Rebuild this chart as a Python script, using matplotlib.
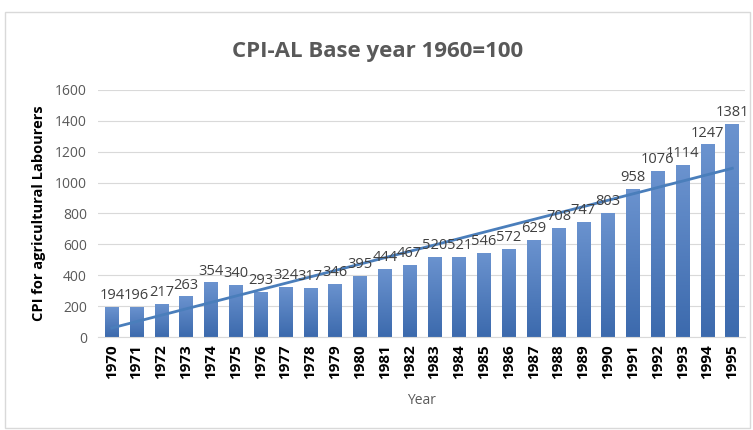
import numpy as np
import matplotlib
matplotlib.use("Agg")
import matplotlib.pyplot as plt
from matplotlib.patches import Rectangle

years = [str(y) for y in range(1970, 1996)]
cpi = [194, 196, 217, 263, 354, 340, 293, 324, 317, 346, 395, 444, 467,
       520, 521, 546, 572, 629, 708, 747, 803, 958, 1076, 1114, 1247, 1381]

plt.rcParams['font.family'] = ['Open Sans', 'DejaVu Sans']

fig = plt.figure(figsize=(7.53, 4.30), dpi=100)
ax = fig.add_axes([0.130, 0.216, 0.859, 0.575])

x = np.arange(len(years))
bars = ax.bar(x, cpi, width=0.55, color='#4a78bd', zorder=2)

# vertical gradient on each bar, lighter at the top
grad = np.linspace(0, 1, 100).reshape(-1, 1)
cmap = matplotlib.colors.LinearSegmentedColormap.from_list('g', ['#3c6aad', '#6b93cf'])
for b in bars:
    bx, by = b.get_x(), b.get_y()
    w, h = b.get_width(), b.get_height()
    im = ax.imshow(grad, extent=[bx, bx + w, by, by + h], origin='lower',
                   cmap=cmap, aspect='auto', zorder=2.1)
    im.set_clip_path(b)

for xi, v in zip(x, cpi):
    ax.text(xi, v + 25, str(v), ha='center', va='bottom', fontsize=10.5,
            color='#404040', zorder=4)

# linear trendline
coef = np.polyfit(x, cpi, 1)
ax.plot(x, np.polyval(coef, x), color='#4a7ebb', lw=2, zorder=3)

ax.set_xlim(-0.56, 25.5)
ax.set_ylim(0, 1600)
ax.set_yticks(range(0, 1601, 200))
ax.set_xticks(x)
ax.set_xticklabels(years, rotation=90, fontweight='bold', fontsize=11, color='#000000')
ax.tick_params(axis='y', labelsize=10, colors='#595959', length=0, pad=8)
ax.tick_params(axis='x', length=0, pad=5)
ax.grid(axis='y', color='#d9d9d9', lw=0.8, zorder=0)
for s in ['top', 'right', 'left']:
    ax.spines[s].set_visible(False)
ax.spines['bottom'].set_color('#d9d9d9')

ax.set_ylabel('CPI for agricultural Labourers', fontsize=10.5, fontweight='bold',
              color='#000000', labelpad=6)
ax.set_xlabel('Year', fontsize=10, color='#595959', labelpad=10)

fig.text(0.502, 0.88, 'CPI-AL Base year 1960=100', ha='center', va='center',
         fontsize=16, fontweight='bold', color='#595959')

fig.patches.append(Rectangle((0.006, 0.005), 0.99, 0.967, transform=fig.transFigure,
                             fill=False, edgecolor='#d9d9d9', lw=1))

fig.savefig('out.png', dpi=100)
